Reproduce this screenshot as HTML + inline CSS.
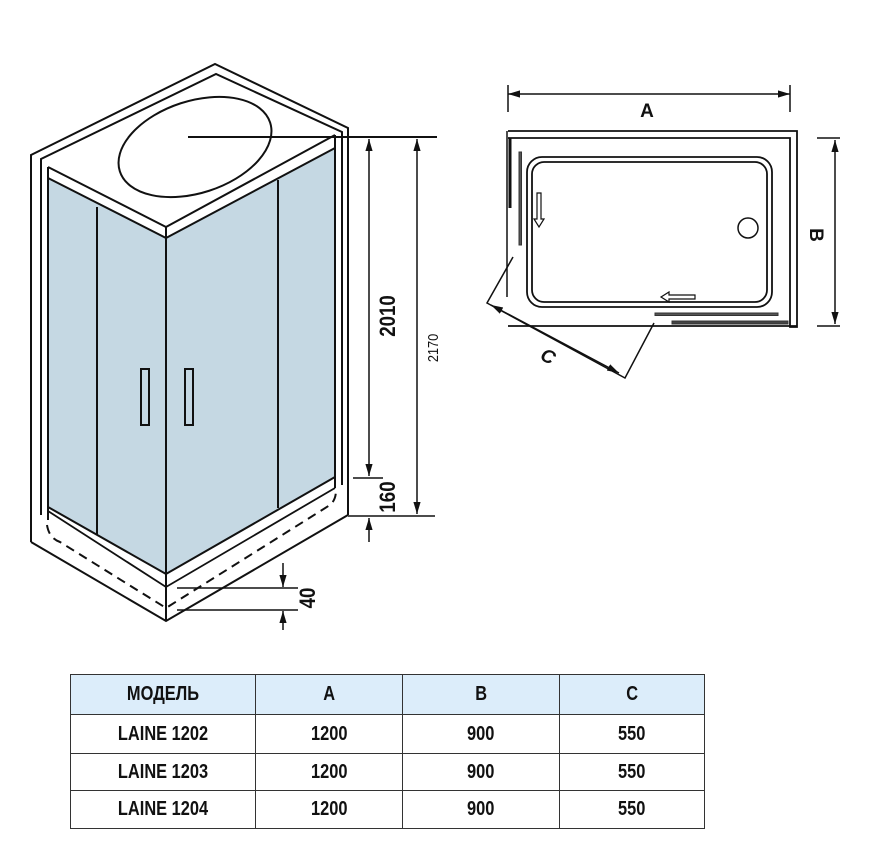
<!DOCTYPE html>
<html><head><meta charset="utf-8"><style>
html,body{margin:0;padding:0;background:#fff;width:871px;height:842px;overflow:hidden}
svg{position:absolute;left:0;top:0}
table{position:absolute;left:70px;top:674px;border-collapse:collapse;font-family:"Liberation Sans",sans-serif;font-weight:bold;font-size:20px;color:#111}
td{border:1.5px solid #333;text-align:center;padding:0}
td span{display:inline-block;transform:scaleX(0.82)}
tr.h td{background:#dcedfa}
</style></head><body>
<svg width="871" height="842" viewBox="0 0 871 842" xmlns="http://www.w3.org/2000/svg">
<defs>
<marker id="ar" viewBox="0 0 10 10" refX="10" refY="5" markerWidth="8" markerHeight="8" orient="auto-start-reverse"><path d="M0,2 L10,5 L0,8 z" fill="#111"/></marker>
</defs>
<g fill="none" stroke="#111" stroke-width="2">
<!-- glass panels -->
<polygon points="48,178 166,238 166,574 48,507" fill="#c5d8e3" stroke="none"/>
<polygon points="166,238 335,148 335,477 166,574" fill="#c5d8e3" stroke="none"/>
<!-- outer frame -->
<polyline points="31,542 31,155 215,64 348,128 348,515"/>
<polyline points="41,515 41,159 216,74 342,132 342,485"/>
<polyline points="48,167 166,227 335,135"/>
<line x1="48" y1="167" x2="48" y2="520"/>
<polyline points="48,178 166,238 335,148"/>
<line x1="166" y1="227" x2="166" y2="621"/>
<line x1="335" y1="135" x2="335" y2="488"/>
<polyline points="48,507 166,574 335,477"/>
<polyline points="48,511 166,587 335,488" stroke-width="1.8"/>
<polyline points="31,542 166,621 348,515"/>
<path d="M47,525 Q49,538 60,542 L166,608 L330,505 Q336,500 336,490" stroke-dasharray="9,6"/>
<line x1="97" y1="207" x2="97" y2="535"/>
<line x1="278" y1="180" x2="278" y2="508"/>
<rect x="141" y="369" width="8" height="56"/>
<rect x="185" y="369" width="8" height="56"/>
<ellipse cx="195" cy="147" rx="79" ry="46" transform="rotate(-18 195 147)"/>
<line x1="188" y1="137" x2="437" y2="137"/>
<!-- dims -->
<line x1="369" y1="139" x2="369" y2="476" marker-start="url(#ar)" marker-end="url(#ar)" stroke-width="1.5"/>
<line x1="369" y1="518" x2="369" y2="542" marker-start="url(#ar)" stroke-width="1.5"/>
<line x1="353" y1="478" x2="383" y2="478" stroke-width="1.5"/>
<line x1="348" y1="516" x2="435" y2="516" stroke-width="1.5"/>
<line x1="417" y1="139" x2="417" y2="514" marker-start="url(#ar)" marker-end="url(#ar)" stroke-width="1.5"/>
<line x1="283" y1="563" x2="283" y2="587" marker-end="url(#ar)" stroke-width="1.5"/>
<line x1="283" y1="611" x2="283" y2="630" marker-start="url(#ar)" stroke-width="1.5"/>
<line x1="177" y1="588" x2="298" y2="588" stroke-width="1.5"/>
<line x1="177" y1="610" x2="298" y2="610" stroke-width="1.5"/>
<!-- plan view -->
<line x1="508" y1="94" x2="790" y2="94" marker-start="url(#ar)" marker-end="url(#ar)" stroke-width="1.5"/>
<line x1="508" y1="85" x2="508" y2="112" stroke-width="1.5"/>
<line x1="790" y1="85" x2="790" y2="112" stroke-width="1.5"/>
<polyline points="508,131 797,131 797,327 790,327 790,138 508,138" stroke-width="1.8"/>
<line x1="508" y1="326" x2="797" y2="326" stroke-width="1.8"/>
<line x1="507" y1="131" x2="507" y2="297" stroke-width="1.5"/>
<line x1="510" y1="138" x2="510" y2="208" stroke-width="3"/>
<rect x="519" y="152" width="2.5" height="93" fill="#555" stroke="#333" stroke-width="1"/>
<rect x="527" y="157" width="245" height="150" rx="15" stroke-width="1.8"/>
<rect x="532" y="162" width="235" height="140" rx="12" stroke-width="1.8"/>
<circle cx="748" cy="228" r="10" stroke-width="1.5"/>
<path d="M537,193 h4 v26 h3 l-5,8 l-5,-8 h3 z" stroke-width="1.2"/>
<path d="M695,295 v4 h-26 v3 l-8,-5 l8,-5 v3 z" stroke-width="1.2"/>
<rect x="655" y="313" width="123" height="2.5" fill="#555" stroke="#333" stroke-width="1"/>
<rect x="672" y="321" width="116" height="3" fill="#444" stroke="#333" stroke-width="1"/>
<polyline points="513,257 487,303 625,378 654,323" stroke-width="1.5"/>
<line x1="491" y1="305" x2="619" y2="373" marker-start="url(#ar)" marker-end="url(#ar)" stroke-width="1.5"/>
<line x1="835" y1="140" x2="835" y2="324" marker-start="url(#ar)" marker-end="url(#ar)" stroke-width="1.5"/>
<line x1="817" y1="138" x2="840" y2="138" stroke-width="1.5"/>
<line x1="817" y1="326" x2="840" y2="326" stroke-width="1.5"/>
</g>
<g font-family="Liberation Sans, sans-serif" font-weight="bold" fill="#111">
<text transform="translate(395,316) rotate(-90) scale(0.85,1)" font-size="22" text-anchor="middle">2010</text>
<text transform="translate(395,497) rotate(-90) scale(0.85,1)" font-size="22" text-anchor="middle">160</text>
<text transform="translate(438,348) rotate(-90) scale(0.85,1)" font-size="15" font-weight="normal" text-anchor="middle">2170</text>
<text transform="translate(315,598) rotate(-90) scale(0.85,1)" font-size="22" text-anchor="middle">40</text>
<text x="647" y="117" font-size="19" text-anchor="middle">A</text>
<text transform="translate(810,235) rotate(90)" font-size="19" text-anchor="middle">B</text>
<text transform="translate(545,362) rotate(28)" font-size="19" font-style="italic" text-anchor="middle">C</text>
</g>
</svg>
<table>
<tr class="h" style="height:40px"><td style="width:184px"><span>МОДЕЛЬ</span></td><td style="width:146px"><span>A</span></td><td style="width:156px"><span>B</span></td><td style="width:144px"><span>C</span></td></tr>
<tr style="height:39px"><td><span>LAINE 1202</span></td><td><span>1200</span></td><td><span>900</span></td><td><span>550</span></td></tr>
<tr style="height:37px"><td><span>LAINE 1203</span></td><td><span>1200</span></td><td><span>900</span></td><td><span>550</span></td></tr>
<tr style="height:38px"><td><span>LAINE 1204</span></td><td><span>1200</span></td><td><span>900</span></td><td><span>550</span></td></tr>
</table>
</body></html>
